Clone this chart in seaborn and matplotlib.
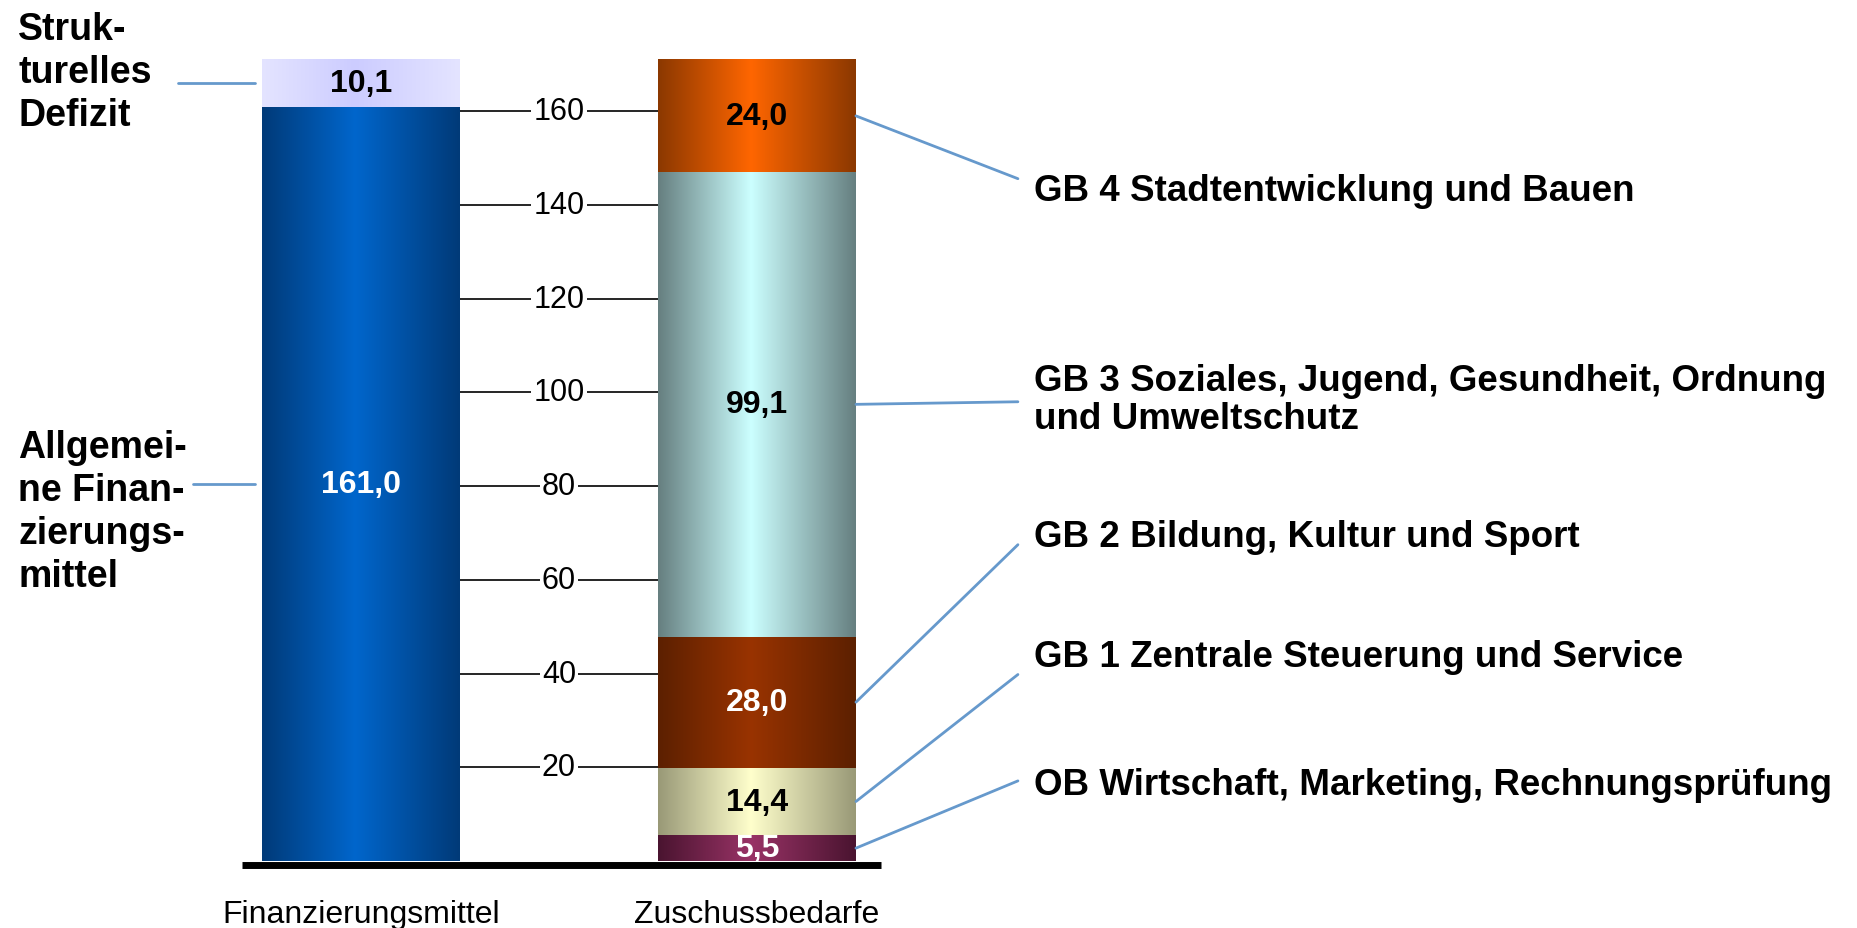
import numpy as np
import pandas as pd
import seaborn as sns
import matplotlib
matplotlib.use("Agg")
import matplotlib.pyplot as plt
from matplotlib.colors import to_rgb

# data
categories = ["Finanzierungsmittel", "Zuschussbedarfe"]

fin_labels = ["Allgemeine Finanzierungsmittel", "Strukturelles Defizit"]
fin_values = [161.0, 10.1]

zus_labels = ["OB Wirtschaft, Marketing, Rechnungsprüfung",
              "GB 1 Zentrale Steuerung und Service",
              "GB 2 Bildung, Kultur und Sport",
              "GB 3 Soziales, Jugend, Gesundheit, Ordnung\nund Umweltschutz",
              "GB 4 Stadtentwicklung und Bauen"]
zus_values = [5.5, 14.4, 28.0, 99.1, 24.0]

fin_text = ["Allgemei-\nne Finan-\nzierungs-\nmittel", "Struk-\nturelles\nDefizit"]

y_ticks = [20, 40, 60, 80, 100, 120, 140, 160]

# styles: (edge colour, centre colour, value text colour)
styles = {
    fin_labels[0]: ("#003a78", "#0066cc", "white"),
    fin_labels[1]: ("#e4e4ff", "#ccccff", "black"),
    zus_labels[0]: ("#4a1430", "#993366", "white"),
    zus_labels[1]: ("#999977", "#ffffcc", "black"),
    zus_labels[2]: ("#5c2000", "#993300", "white"),
    zus_labels[3]: ("#667f80", "#ccffff", "black"),
    zus_labels[4]: ("#8b3800", "#ff6600", "black"),
}

rows = []
for cat, labels, vals in [(categories[0], fin_labels, fin_values),
                          (categories[1], zus_labels, zus_values)]:
    bottom = 0.0
    for lab, v in zip(labels, vals):
        rows.append(dict(category=cat, segment=lab, value=v, bottom=bottom))
        bottom += v
df = pd.DataFrame(rows)


def gradient(edge, center, n=256, peak=0.47):
    t = np.linspace(0, 1, n)
    w = np.where(t < peak, t / peak, (1 - t) / (1 - peak))
    e = np.array(to_rgb(edge))
    c = np.array(to_rgb(center))
    return (e[None, :] * (1 - w[:, None]) + c[None, :] * w[:, None])[None, :, :]


sns.set_style("white")
plt.rcParams["font.family"] = ["Liberation Sans", "DejaVu Sans"]
plt.rcParams["text.color"] = "black"
plt.rcParams["xtick.color"] = "black"

fig = plt.figure(figsize=(18.57, 9.29), dpi=100)
ax = fig.add_axes([0, 0.0721, 1, 0.9080])

seg_center = {}
for _, r in df.iterrows():
    edge, center, tcol = styles[r.segment]
    sns.barplot(x=[r.category], y=[r.value], order=categories, bottom=r.bottom,
                width=0.5, color=center, saturation=1, errorbar=None, ax=ax)
    p = ax.patches[-1]
    x0, w = p.get_x(), p.get_width()
    ax.imshow(gradient(edge, center), extent=[x0, x0 + w, r.bottom, r.bottom + r.value],
              aspect="auto", interpolation="bilinear", zorder=2)
    xc = x0 + w / 2
    yc = r.bottom + r.value / 2
    seg_center[r.segment] = yc
    ax.text(xc, yc, f"{r.value:.1f}".replace(".", ","), ha="center", va="center",
            fontsize=23, fontweight="bold", color=tcol, zorder=3)

# scale lines between the bars
ax.hlines(y_ticks, 0.25, 0.75, color="black", lw=1.2, zorder=1)
for t in y_ticks:
    ax.text(0.5, t, str(t), ha="center", va="center", fontsize=22, zorder=2,
            bbox=dict(fc="white", ec="none", pad=1.5))

# base line
ax.hlines(-0.8, -0.3, 1.313, color="black", lw=5, zorder=4, clip_on=False)

line_col = "#6699cc"

# right labels
right_text_y = [16.4, 43.6, 69.3, 98.5, 143.1]
right_line_y = [17.1, 39.8, 67.5, 98.0, 145.6]
for lab, ty, ly in zip(zus_labels, right_text_y, right_line_y):
    ax.plot([1.25, 1.659], [seg_center[lab], ly], color=line_col, lw=2, zorder=3)
    ax.text(1.699, ty, lab, ha="left", va="center", fontsize=26.5,
            fontweight="bold", linespacing=1.1)

# left labels
left_text_y = [74.6, 168.3]
left_line_x = [-0.424, -0.462]
for lab, txt, ty, lx in zip(fin_labels, fin_text, left_text_y, left_line_x):
    ax.plot([lx, -0.268], [seg_center[lab]] * 2, color=line_col, lw=2, zorder=3)
    ax.text(-0.866, ty, txt, ha="left", va="center", fontsize=27,
            fontweight="bold", linespacing=1.25)

ax.set_xlim(-0.9116, 3.778)
ax.set_ylim(0, 180)
ax.set_yticks([])
ax.set_xlabel("")
ax.set_ylabel("")
ax.tick_params(axis="x", length=0, pad=27, labelsize=23)
for s in ax.spines.values():
    s.set_visible(False)

fig.savefig("out.png", dpi=100)
